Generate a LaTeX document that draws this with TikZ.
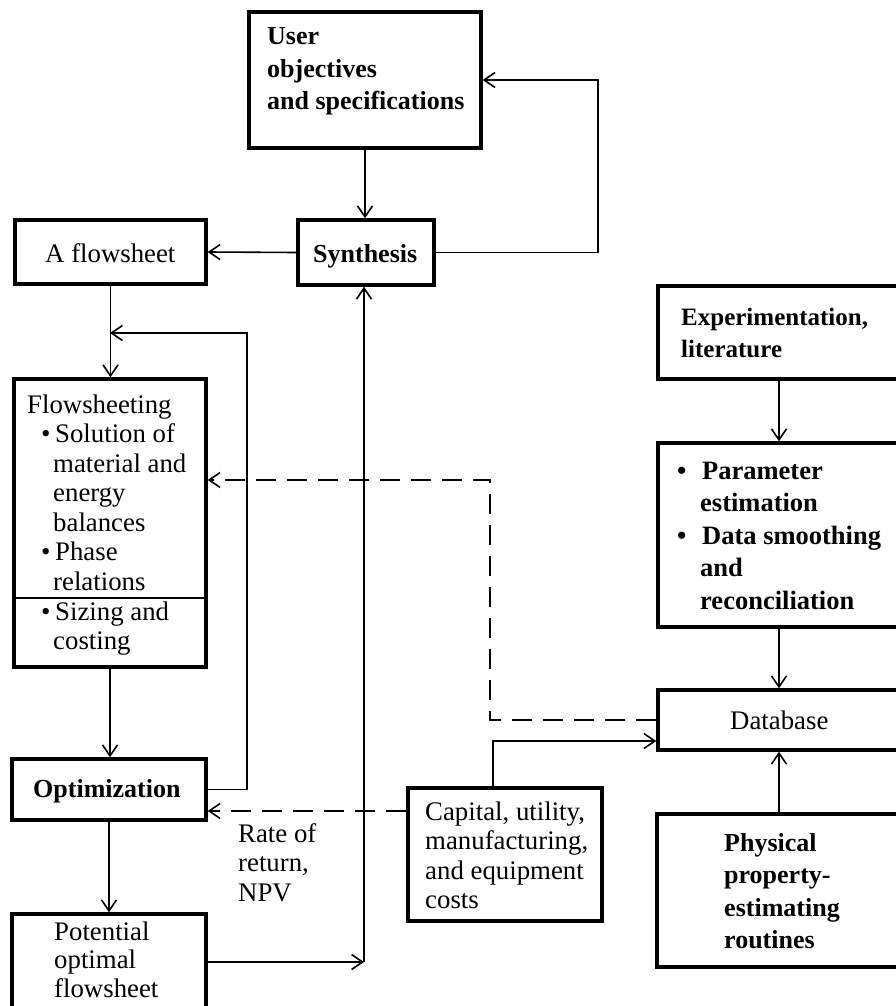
\documentclass[tikz,border=0pt]{standalone}
\usepackage{fontspec}
\setmainfont{Liberation Serif}
\usetikzlibrary{arrows.meta}
\tikzset{
  box/.style={draw, line width=3.4pt, inner sep=0pt, rectangle},
  conn/.style={line width=1.6pt},
  arr/.style={conn, -{Straight Barb[length=11pt,width=15pt,line width=1.6pt]}},
  dsh/.style={dash pattern=on 20pt off 11pt},
  txt/.style={inner sep=0pt, anchor=base west, align=left, font=\fontsize{26.8}{29.5}\selectfont},
  btxt/.style={inner sep=0pt, anchor=base west, align=left, font=\fontsize{26}{32.5}\selectfont\bfseries},
}
\begin{document}
\begin{tikzpicture}[x=1pt,y=-1pt]
\useasboundingbox (0,0) rectangle (896,1006);
\clip (0,0) rectangle (896,1006);
% boxes
\node[box, minimum width=232pt, minimum height=136pt] (user) at (365,80) {};
\node[box, minimum width=136pt, minimum height=65pt] (synth) at (366,252.5) {};
\node[box, minimum width=191pt, minimum height=64pt] (flow) at (110.5,252) {};
\node[box, minimum width=192pt, minimum height=288pt] (fsheet) at (110,523) {};
\node[box, minimum width=194pt, minimum height=61pt] (opt) at (109,789.5) {};
\node[box, minimum width=194pt, minimum height=106pt] (pot) at (109,967) {};
\node[box, minimum width=194pt, minimum height=133pt] (cap) at (505,854.5) {};
\node[box, minimum width=252pt, minimum height=60pt] (db) at (784,720) {};
\node[box, minimum width=253pt, minimum height=153pt] (phys) at (783.5,890.5) {};
\node[box, minimum width=252pt, minimum height=93pt] (exp) at (784,332.5) {};
\node[box, minimum width=252pt, minimum height=184pt] (par) at (784,535) {};
% separator inside flowsheeting box
\draw[conn] (fsheet.west |- 0,598) -- (fsheet.east |- 0,598);
% texts (anchor = baseline of the last line)
\node[btxt] (tuser) at (267,110) {User\\objectives\\and specifications};
\node[btxt] (tsynth) at (313,262) {Synthesis};
\node[txt] (tflow) at (45,262) {A flowsheet};
\node[txt] (tfsheet) at (27,590) {Flowsheeting\\
\makebox[28pt][l]{\hspace*{14pt}•}Solution of\\
\hspace*{26pt}material and\\
\hspace*{26pt}energy\\
\hspace*{26pt}balances\\
\makebox[28pt][l]{\hspace*{14pt}•}Phase\\
\hspace*{26pt}relations};
\node[txt] (tsize) at (27,649.5) {\makebox[28pt][l]{\hspace*{14pt}•}Sizing and\\
\hspace*{26pt}costing};
\node[btxt] (topt) at (33,797) {Optimization};
\node[txt] (trate) at (238,901) {Rate of\\return,\\NPV};
\node[txt, font=\fontsize{26.8}{28.5}\selectfont] (tpot) at (54,997) {Potential\\optimal\\flowsheet};
\node[txt] (tcap) at (425,908.5) {Capital, utility,\\manufacturing,\\and equipment\\costs};
\node[txt] (tdb) at (730,729) {Database};
\node[btxt] (tphys) at (724,948.5) {Physical\\property-\\estimating\\routines};
\node[btxt, font=\fontsize{25}{32}\selectfont\bfseries] (texp) at (681,357) {Experimentation,\\literature};
\node[btxt, font=\fontsize{26.5}{32.5}\selectfont\bfseries] (tpar) at (677,609) {\makebox[25pt][l]{•}Parameter\\
\hspace*{23pt}estimation\\
\makebox[25pt][l]{•}Data smoothing\\
\hspace*{23pt}and\\
\hspace*{23pt}reconciliation};
% helper coordinates
\coordinate (j1) at (110,333);
\coordinate (loopc) at (247,333);
\coordinate (j2) at (364,962);
\coordinate (d2) at (490,480);
\coordinate (c1) at (493,741);
\coordinate (rr) at (300,811);
\coordinate (colx) at (779,400);
% connectors
\draw[arr] (user.south) -- (user.south |- synth.north);
\draw[arr] (synth.east) -- ++(162,0) |- (user.east);
\draw[arr] (synth.west) -- (flow.east);
\draw[arr] (flow.south) -- (flow.south |- fsheet.north);
\draw[arr] (opt.east) -| (loopc) -- (j1);
\draw[arr] (fsheet.south) -- (fsheet.south |- opt.north);
\draw[arr] (opt.south) -- (opt.south |- pot.north);
\draw[arr] (pot.east |- j2) -- (j2);
\draw[arr] (j2) -- (j2 |- synth.south);
\draw[arr, dsh] (db.west) -| (d2) -- (fsheet.east |- d2);
\draw[arr] (cap.north -| c1) -- (c1) -- (db.west |- c1);
\draw[arr, dsh] (cap.west |- rr) -- (opt.east |- rr);
\draw[arr] (exp.south -| colx) -- (par.north -| colx);
\draw[arr] (par.south -| colx) -- (db.north -| colx);
\draw[arr] (phys.north -| colx) -- (db.south -| colx);
\end{tikzpicture}
\end{document}
